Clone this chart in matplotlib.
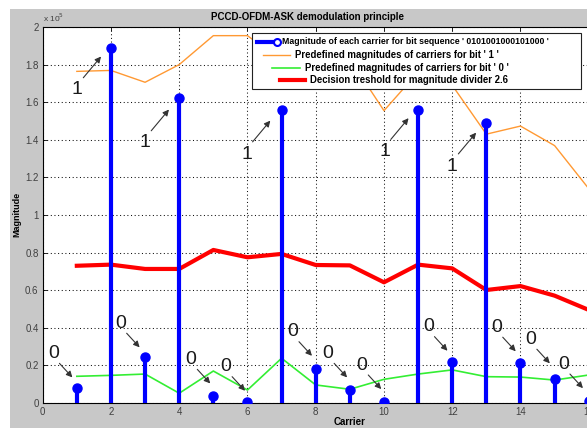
import numpy as np
import matplotlib
matplotlib.use('Agg')
import matplotlib.pyplot as plt
from matplotlib.patches import Rectangle
from matplotlib.lines import Line2D

plt.rcParams['font.family'] = ['Liberation Sans', 'DejaVu Sans']

# values (x 10^5)
carriers = list(range(1, 17))
bits = '0101001000101000'
magnitude = [0.08, 1.89, 0.245, 1.62, 0.035, 0.005, 1.56, 0.18,
             0.068, 0.005, 1.56, 0.22, 1.49, 0.215, 0.13, 0.01]
bit1_level = [1.764, 1.769, 1.706, 1.80, 1.954, 1.954, 1.82, 1.81,
              1.83, 1.555, 1.76, 1.69, 1.43, 1.473, 1.369, 1.14]
bit0_level = [0.142, 0.147, 0.154, 0.052, 0.17, 0.069, 0.238, 0.096,
              0.073, 0.126, 0.154, 0.176, 0.14, 0.138, 0.122, 0.149]
threshold = [0.730, 0.736, 0.713, 0.713, 0.814, 0.775, 0.793, 0.734,
             0.732, 0.642, 0.736, 0.716, 0.601, 0.622, 0.571, 0.495]
yticks = [0, 0.2, 0.4, 0.6, 0.8, 1, 1.2, 1.4, 1.6, 1.8, 2]
xticks = [0, 2, 4, 6, 8, 10, 12, 14, 16, 18]

legend_labels = ["Magnitude of each carrier for bit sequence ' 0101001000101000 '",
                 "Predefined magnitudes of carriers for bit ' 1 '",
                 "Predefined magnitudes of carriers for bit ' 0 '",
                 "Decision treshold for magnitude divider 2.6"]

# where the hand placed "0"/"1" notes sit (data coords)
note_pos = [(0.31, 0.264), (1.01, 1.665), (2.28, 0.424), (3.0, 1.383),
            (4.35, 0.232), (5.37, 0.193), (5.97, 1.324), (7.33, 0.379),
            (8.36, 0.264), (9.36, 0.202), (10.02, 1.337), (11.3, 0.406),
            (12.0, 1.26), (13.3, 0.403), (14.3, 0.339), (15.27, 0.207)]

W, H = 587, 428


def fxy(x, y):
    # pixel -> figure fraction
    return x / W, 1 - y / H


fig = plt.figure(figsize=(W / 100, H / 100), dpi=100)
fig.patch.set_facecolor('white')
fig.add_artist(Rectangle(fxy(10, H), 1, (H - 9) / H, transform=fig.transFigure,
                         facecolor='#c8c8c8', edgecolor='none', zorder=-10))

ax = fig.add_axes([42.7 / W, 25 / H, (657 - 42.7) / W, 376 / H])
ax.set_facecolor('white')

ax.plot(carriers, bit1_level, color='#ff9933', lw=1.0, zorder=2)
ax.plot(carriers, bit0_level, color='#33ee33', lw=1.2, zorder=2)
ax.plot(carriers, threshold, color='#ff0000', lw=3.0, zorder=2)

ml, sl, bl = ax.stem(carriers, magnitude, basefmt=' ')
plt.setp(sl, color='#0000ff', lw=3.0, zorder=3)
plt.setp(ml, color='#0000ff', markersize=6.5, zorder=4)
bl.set_visible(False)

for b, (tx, ty) in zip(bits, note_pos):
    ax.text(tx, ty, b, fontsize=14, color='#1a1a1a', ha='center', va='center', zorder=5)
    if b == '1':
        tail = (tx + 0.18, ty + 0.065)
        head = (tx + 0.70, ty + 0.178)
    else:
        tail = (tx + 0.18, ty - 0.053)
        head = (tx + 0.56, ty - 0.128)
    ax.annotate('', xy=head, xytext=tail,
                arrowprops=dict(arrowstyle='-|>', color='#333333', lw=0.8,
                                mutation_scale=9, shrinkA=0, shrinkB=0), zorder=5)

ax.set_xlim(0, 18)
ax.set_ylim(0, 2)
ax.set_xticks(xticks)
ax.set_yticks(yticks)
ax.set_yticklabels([f'{v:g}' for v in yticks])
ax.tick_params(direction='in', top=True, right=True, length=3, width=0.6,
               labelsize=7, labelcolor='#404040', pad=3)
ax.grid(True, color='#111111', linestyle=(0, (1, 2.5)), lw=0.75)
for s in ax.spines.values():
    s.set_linewidth(0.8)

fig.text(*fxy(307.5, 16.5), 'PCCD-OFDM-ASK demodulation principle', fontsize=7,
         fontweight='bold', ha='center', va='center')
fig.text(*fxy(350, 422), 'Carrier', fontsize=7, fontweight='bold', ha='center', va='center')
fig.text(*fxy(17, 214), 'Magnitude', fontsize=6.5, fontweight='bold', rotation=90,
         ha='center', va='center')
fig.text(*fxy(43, 18), r'x 10$^5$', fontsize=6, color='#404040', ha='left', va='center')

# legend box, MATLAB style with centred entries
fig.add_artist(Rectangle(fxy(251.7, 89.3), 329.3 / W, 56 / H, transform=fig.transFigure,
                         facecolor='white', edgecolor='#222222', lw=0.8, zorder=6))
leg_rows = [41.7, 55, 67.7, 80]
leg_line = [(256.7, 276.7), (263, 290), (271.7, 300), (280, 305)]
leg_size = [6.3, 6.9, 6.9, 6.9]
leg_style = [dict(color='#0000ff', lw=3.0), dict(color='#ff9933', lw=1.0),
             dict(color='#33ee33', lw=1.2), dict(color='#ff0000', lw=3.0)]
for lab, yy, (x0, x1), fs, st in zip(legend_labels, leg_rows, leg_line, leg_size, leg_style):
    p0, p1 = fxy(x0, yy), fxy(x1, yy)
    fig.add_artist(Line2D([p0[0], p1[0]], [p0[1], p1[1]], transform=fig.transFigure,
                          zorder=7, **st))
    fig.text(*fxy(x1 + 5, yy), lab, fontsize=fs, fontweight='bold',
             ha='left', va='center', zorder=8)
pm = fxy(276.7, leg_rows[0])
fig.add_artist(Line2D([pm[0]], [pm[1]], transform=fig.transFigure, marker='o',
                      markersize=5, markerfacecolor='white', markeredgecolor='#0000ff',
                      markeredgewidth=1.5, zorder=8))

fig.savefig('out.png', dpi=100)
